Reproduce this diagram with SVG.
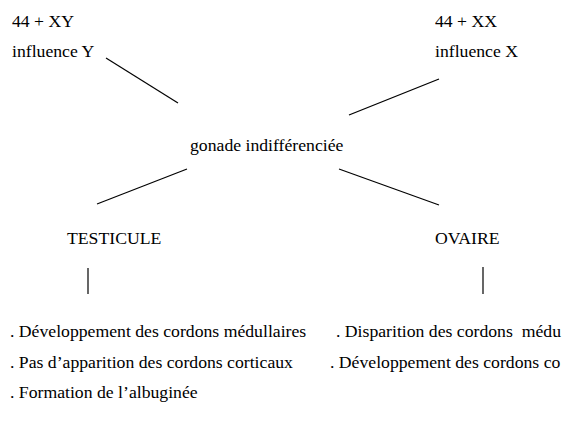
<svg xmlns="http://www.w3.org/2000/svg" width="562" height="423" viewBox="0 0 562 423">
<style>
text { font-family: 'Liberation Serif', 'Times New Roman', Times, 'DejaVu Serif', serif; font-size: 17.7px; fill: #000; }
.c line { stroke: #000; stroke-width: 1.2; }
</style>
<rect width="562" height="423" fill="#fff"/>
<g id="xy"><text x="12" y="27">44 + XY</text><text x="12" y="57">influence Y</text></g>
<g id="xx"><text x="435" y="27">44 + XX</text><text x="435" y="57">influence X</text></g>
<g id="gonade"><text x="190" y="151">gonade indifférenciée</text></g>
<g id="testicule"><text x="67" y="244">TESTICULE</text></g>
<g id="ovaire"><text x="435" y="244">OVAIRE</text></g>
<g id="testicule-list">
<text x="10" y="337">. Développement des cordons médullaires</text>
<text x="10" y="368">. Pas d’apparition des cordons corticaux</text>
<text x="10" y="398">. Formation de l’albuginée</text>
</g>
<g id="ovaire-list">
<text x="336" y="337" xml:space="preserve">. Disparition des cordons  médu</text>
<text x="330" y="368">. Développement des cordons co</text>
</g>
<g class="c" id="connectors">
<line x1="106" y1="58" x2="178" y2="103"/>
<line x1="439" y1="79" x2="349" y2="115"/>
<line x1="97" y1="204" x2="187" y2="169"/>
<line x1="339" y1="169" x2="439" y2="205"/>
<line x1="88" y1="268" x2="88" y2="294"/>
<line x1="483" y1="267" x2="483" y2="294"/>
</g>
</svg>
